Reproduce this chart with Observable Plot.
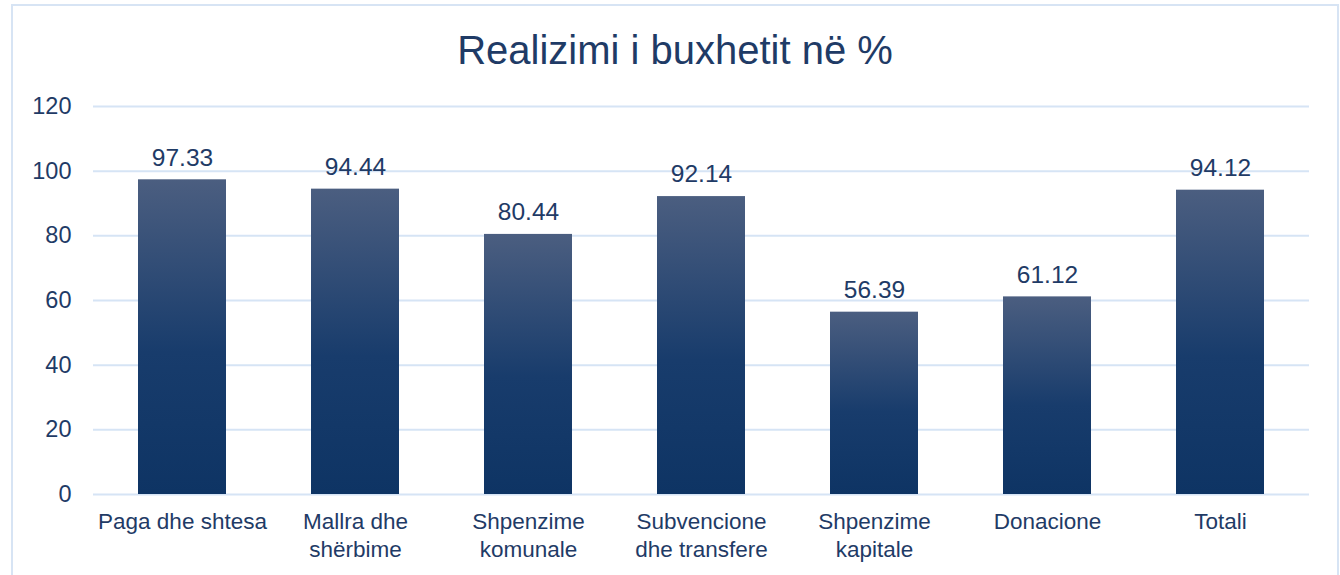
<!DOCTYPE html>
<html><head><meta charset="utf-8">
<script src="https://cdn.jsdelivr.net/npm/d3@7"></script>
<script src="https://cdn.jsdelivr.net/npm/@observablehq/plot@0.6"></script>
<style>
body{margin:0;background:#fff;width:1340px;height:575px;overflow:hidden;position:relative;font-family:"Liberation Sans",Arial,sans-serif;}
#frame{position:absolute;left:11px;top:4px;width:1324px;height:600px;border:2px solid #d7e4f4;}
#title{position:absolute;left:11px;width:1328px;top:25px;text-align:center;font-size:40px;color:#1f3b66;line-height:50px;}
#chart{position:absolute;left:0;top:85px;}
</style></head>
<body>
<div id="frame"></div>
<div id="title">Realizimi i buxhetit në %</div>
<div id="chart"></div>
<script>
const categories = ["Paga dhe shtesa","Mallra dhe\nshërbime","Shpenzime\nkomunale","Subvencione\ndhe transfere","Shpenzime\nkapitale","Donacione","Totali"];
const values = [97.33, 94.44, 80.44, 92.14, 56.39, 61.12, 94.12];
const yTicks = [0, 20, 40, 60, 80, 100, 120];

const data = categories.map((c, i) => ({cat: c, value: values[i]}));
const textColor = "#1f3b66";

const gradient = () => {
  const ns = "http://www.w3.org/2000/svg";
  const defs = document.createElementNS(ns, "defs");
  defs.innerHTML = `<linearGradient id="barGrad" x1="0" y1="0" x2="0" y2="1">
    <stop offset="0" stop-color="#4b5e80"/>
    <stop offset="0.55" stop-color="#183c6c"/>
    <stop offset="1" stop-color="#0e3464"/>
  </linearGradient>`;
  return defs;
};

const chart = Plot.plot({
  width: 1340,
  height: 490,
  marginLeft: 93,
  marginRight: 31,
  marginTop: 21,
  marginBottom: 81,
  style: {fontFamily: "'Liberation Sans', Arial, sans-serif", color: textColor, background: "transparent"},
  x: {domain: categories, paddingInner: 0.493, paddingOuter: 0.2465, label: null},
  y: {domain: [0, 120], label: null},
  marks: [
    gradient,
    Plot.ruleY(yTicks, {stroke: "#d6e4f5", strokeWidth: 2}),
    Plot.barY(data, {x: "cat", y: "value", fill: "url(#barGrad)"}),
    Plot.text(data, {x: "cat", y: "value", text: d => d.value.toFixed(2), dy: -22, fontSize: 24.5, fill: textColor, lineAnchor: "middle"}),
    Plot.axisY({ticks: yTicks, tickSize: 0, tickPadding: 22, fontSize: 23.5, fill: textColor, label: null}),
    Plot.axisX({tickSize: 0, tickPadding: 15, fontSize: 22.5, fill: textColor, label: null, lineHeight: 1.24, lineAnchor: "top"})
  ]
});
document.getElementById("chart").appendChild(chart);
</script>
</body></html>
